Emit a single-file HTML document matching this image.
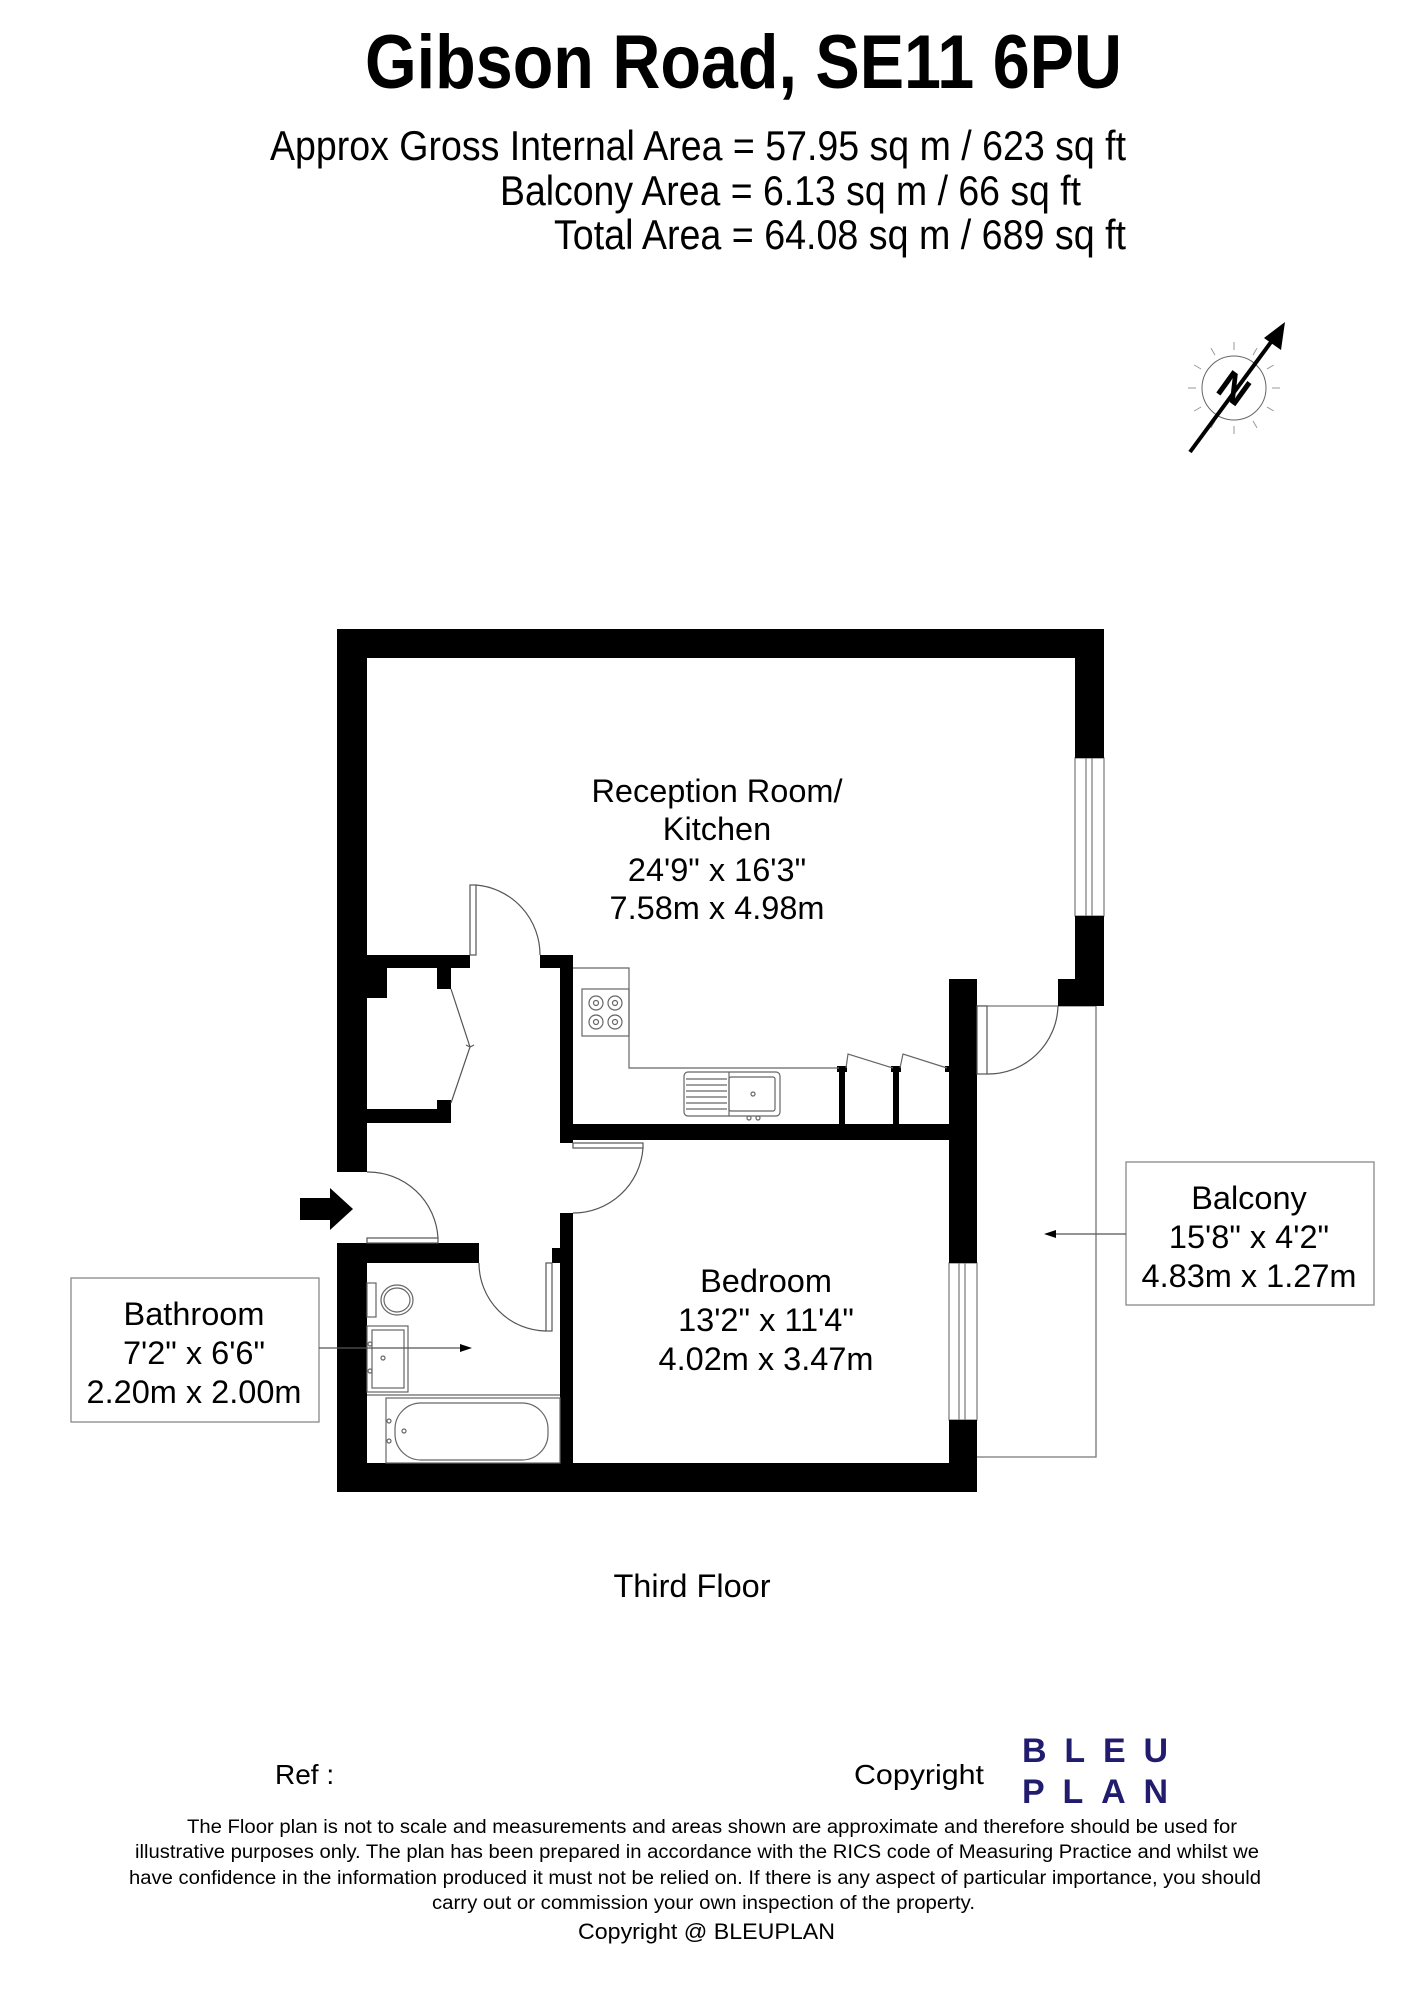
<!DOCTYPE html>
<html><head><meta charset="utf-8"><style>
html,body{margin:0;padding:0;background:#fff;}
svg{display:block;}
text{font-family:"Liberation Sans",Arial,sans-serif;fill:#000;}
text.navy{fill:#211c6e;}
</style></head><body>
<svg width="1413" height="2000" viewBox="0 0 1413 2000" xmlns="http://www.w3.org/2000/svg">
<!-- Title -->
<text x="365" y="88" font-size="76" font-weight="bold" textLength="757" lengthAdjust="spacingAndGlyphs">Gibson Road, SE11 6PU</text>
<text x="270" y="160" font-size="42" textLength="856" lengthAdjust="spacingAndGlyphs">Approx Gross Internal Area = 57.95 sq m / 623 sq ft</text>
<text x="500" y="205" font-size="42" textLength="581" lengthAdjust="spacingAndGlyphs">Balcony Area = 6.13 sq m / 66 sq ft</text>
<text x="554" y="249" font-size="42" textLength="572" lengthAdjust="spacingAndGlyphs">Total Area = 64.08 sq m / 689 sq ft</text>

<!-- Compass -->
<g stroke="#888" stroke-width="1" fill="none">
<circle cx="1234" cy="388" r="32" stroke="#666"/>
<g stroke="#999">
<line x1="1234" y1="350" x2="1234" y2="342" transform="rotate(0 1234 388)"/>
<line x1="1234" y1="350" x2="1234" y2="342" transform="rotate(30 1234 388)"/>
<line x1="1234" y1="350" x2="1234" y2="342" transform="rotate(60 1234 388)"/>
<line x1="1234" y1="350" x2="1234" y2="342" transform="rotate(90 1234 388)"/>
<line x1="1234" y1="350" x2="1234" y2="342" transform="rotate(120 1234 388)"/>
<line x1="1234" y1="350" x2="1234" y2="342" transform="rotate(150 1234 388)"/>
<line x1="1234" y1="350" x2="1234" y2="342" transform="rotate(180 1234 388)"/>
<line x1="1234" y1="350" x2="1234" y2="342" transform="rotate(210 1234 388)"/>
<line x1="1234" y1="350" x2="1234" y2="342" transform="rotate(240 1234 388)"/>
<line x1="1234" y1="350" x2="1234" y2="342" transform="rotate(270 1234 388)"/>
<line x1="1234" y1="350" x2="1234" y2="342" transform="rotate(300 1234 388)"/>
<line x1="1234" y1="350" x2="1234" y2="342" transform="rotate(330 1234 388)"/>
</g>
</g>
<line x1="1190" y1="452" x2="1274" y2="338" stroke="#000" stroke-width="4"/>
<polygon points="1285,322 1281,350 1264,338" fill="#000"/>
<text x="1234" y="402" font-size="40" font-weight="bold" text-anchor="middle" transform="rotate(36 1234 388)">N</text>

<!-- Balcony outline -->
<polyline points="977,1006 1096,1006 1096,1457 977,1457" fill="none" stroke="#777" stroke-width="1.3"/>

<!-- Windows -->
<g fill="#fff" stroke="#777" stroke-width="1.2">
<rect x="1075" y="758" width="29" height="158"/>
<line x1="1086" y1="758" x2="1086" y2="916"/><line x1="1092" y1="758" x2="1092" y2="916"/>
<rect x="949" y="1263" width="28" height="157"/>
<line x1="959" y1="1263" x2="959" y2="1420"/><line x1="965" y1="1263" x2="965" y2="1420"/>
</g>

<!-- Walls -->
<g fill="#000">
<rect x="337" y="629" width="767" height="29"/>
<rect x="337" y="629" width="30" height="543"/>
<rect x="337" y="968" width="50" height="30"/>
<rect x="337" y="955" width="133" height="13"/>
<rect x="437" y="955" width="14" height="34"/>
<rect x="337" y="1109" width="114" height="14"/>
<rect x="437" y="1100" width="14" height="23"/>
<rect x="540" y="955" width="33" height="13"/>
<rect x="560" y="955" width="13" height="188"/>
<rect x="560" y="1124" width="389" height="16"/>
<rect x="1075" y="629" width="29" height="129"/>
<rect x="1075" y="916" width="29" height="90"/>
<rect x="1058" y="979" width="46" height="27"/>
<rect x="949" y="979" width="28" height="284"/>
<rect x="949" y="1420" width="28" height="72"/>
<rect x="337" y="1243" width="30" height="249"/>
<rect x="337" y="1243" width="142" height="20"/>
<rect x="560" y="1213" width="13" height="279"/>
<rect x="552" y="1248" width="21" height="15"/>
<rect x="337" y="1463" width="640" height="29"/>
<rect x="839" y="1068" width="6" height="60"/>
<rect x="893" y="1068" width="6" height="60"/>
<rect x="837" y="1066" width="10" height="6"/>
<rect x="891" y="1066" width="10" height="6"/>
<rect x="945" y="1066" width="6" height="6"/>
</g>

<!-- Kitchen fittings -->
<g fill="none" stroke="#666" stroke-width="1.2">
<polyline points="573,968 629,968 629,1068 839,1068"/>
<rect x="582" y="989" width="47" height="47"/>
<circle cx="596" cy="1003" r="7"/><circle cx="615" cy="1003" r="7"/>
<circle cx="596" cy="1022" r="7"/><circle cx="615" cy="1022" r="7"/>
<circle cx="596" cy="1003" r="2.5"/><circle cx="615" cy="1003" r="2.5"/>
<circle cx="596" cy="1022" r="2.5"/><circle cx="615" cy="1022" r="2.5"/>
<rect x="684" y="1072" width="96" height="44" rx="4"/>
<rect x="729" y="1077" width="46" height="34" rx="2"/>
<line x1="729" y1="1072" x2="729" y2="1116"/>
<line x1="686" y1="1079" x2="727" y2="1079"/><line x1="686" y1="1085" x2="727" y2="1085"/>
<line x1="686" y1="1091" x2="727" y2="1091"/><line x1="686" y1="1097" x2="727" y2="1097"/>
<line x1="686" y1="1103" x2="727" y2="1103"/><line x1="686" y1="1109" x2="727" y2="1109"/>
<circle cx="753" cy="1094" r="2"/><circle cx="749" cy="1118" r="2"/><circle cx="758" cy="1118" r="2"/>
<polyline points="846,1068 848,1054 893,1068"/>
<polyline points="900,1068 903,1054 947,1068"/>
</g>

<!-- Doors -->
<g fill="none" stroke="#555" stroke-width="1.2">
<rect x="470" y="885" width="6" height="70" fill="#fff"/>
<path d="M476,885 A70,70 0 0 1 540,955"/>
<rect x="573" y="1143" width="70" height="5" fill="#fff"/>
<path d="M643,1148 A70,70 0 0 1 573,1213"/>
<rect x="367" y="1238" width="71" height="5" fill="#fff"/>
<path d="M438,1238 A70,70 0 0 0 367,1172"/>
<rect x="546" y="1263" width="6" height="68" fill="#fff"/>
<path d="M546,1331 A68,68 0 0 1 479,1263"/>
<rect x="977" y="1006" width="10" height="68" fill="#fff"/>
<path d="M987,1074 A70,70 0 0 0 1058,1006"/>
<polyline points="451,989 470,1047 451,1103"/>
<polyline points="466,1045 470,1047 474,1045"/>
</g>

<!-- Bathroom fittings -->
<g fill="none" stroke="#666" stroke-width="1.2">
<rect x="367" y="1283" width="9" height="34"/>
<ellipse cx="397" cy="1300" rx="16" ry="15"/>
<ellipse cx="397" cy="1300" rx="13" ry="12"/>
<rect x="367" y="1326" width="41" height="66"/>
<rect x="372" y="1330" width="32" height="58"/>
<circle cx="370" cy="1344" r="2"/><circle cx="383" cy="1358" r="2"/><circle cx="370" cy="1371" r="2"/>
<rect x="386" y="1398" width="174" height="65"/>
<rect x="395" y="1403" width="153" height="57" rx="26"/>
<circle cx="389" cy="1421" r="2"/><circle cx="404" cy="1431" r="2"/><circle cx="389" cy="1441" r="2"/>
<line x1="367" y1="1395" x2="560" y2="1395"/>
</g>

<!-- Entry arrow -->
<polygon points="300,1198 330,1198 330,1188 353,1209 330,1230 330,1220 300,1220" fill="#000"/>

<!-- Room labels -->
<g font-size="32.5" text-anchor="middle">
<text x="717" y="802">Reception Room/</text>
<text x="717" y="840">Kitchen</text>
<text x="717" y="881">24'9" x 16'3"</text>
<text x="717" y="919">7.58m x 4.98m</text>
<text x="766" y="1292">Bedroom</text>
<text x="766" y="1331">13'2" x 11'4"</text>
<text x="766" y="1370">4.02m x 3.47m</text>
</g>

<!-- Callout boxes -->
<g fill="#fff" stroke="#888" stroke-width="1.3">
<rect x="71" y="1278" width="248" height="144"/>
<rect x="1126" y="1162" width="248" height="143"/>
</g>
<g stroke="#555" stroke-width="1.2">
<line x1="319" y1="1348" x2="462" y2="1348"/>
<line x1="1126" y1="1234" x2="1052" y2="1234"/>
</g>
<polygon points="472,1348 460,1344 460,1352" fill="#000"/>
<polygon points="1044,1234 1056,1230 1056,1238" fill="#000"/>
<g font-size="32.5" text-anchor="middle">
<text x="194" y="1325">Bathroom</text>
<text x="194" y="1364">7'2" x 6'6"</text>
<text x="194" y="1403">2.20m x 2.00m</text>
<text x="1249" y="1209">Balcony</text>
<text x="1249" y="1248">15'8" x 4'2"</text>
<text x="1249" y="1287">4.83m x 1.27m</text>
<text x="692" y="1597">Third Floor</text>
</g>

<!-- Footer -->
<text x="275" y="1784" font-size="28">Ref  :</text>
<text x="854" y="1784" font-size="28" textLength="130" lengthAdjust="spacingAndGlyphs">Copyright</text>
<text class="navy" x="1022" y="1762" font-size="34" font-weight="bold" textLength="146" lengthAdjust="spacing">BLEU</text>
<text class="navy" x="1022" y="1803" font-size="34" font-weight="bold" textLength="146" lengthAdjust="spacing">PLAN</text>
<g font-size="19">
<text x="187" y="1833" textLength="1050" lengthAdjust="spacingAndGlyphs">The Floor plan is not to scale and measurements and areas shown are approximate and therefore should be used for</text>
<text x="135" y="1858" textLength="1124" lengthAdjust="spacingAndGlyphs">illustrative purposes only. The plan has been prepared in accordance with the RICS code of Measuring Practice and whilst we</text>
<text x="129" y="1884" textLength="1132" lengthAdjust="spacingAndGlyphs">have confidence in the information produced it must not be relied on. If there is any aspect of particular importance, you should</text>
<text x="432" y="1909" textLength="543" lengthAdjust="spacingAndGlyphs">carry out or commission your own inspection of the property.</text>
</g>
<text x="578" y="1939" font-size="22" textLength="257" lengthAdjust="spacingAndGlyphs">Copyright @ BLEUPLAN</text>
</svg>
</body></html>
